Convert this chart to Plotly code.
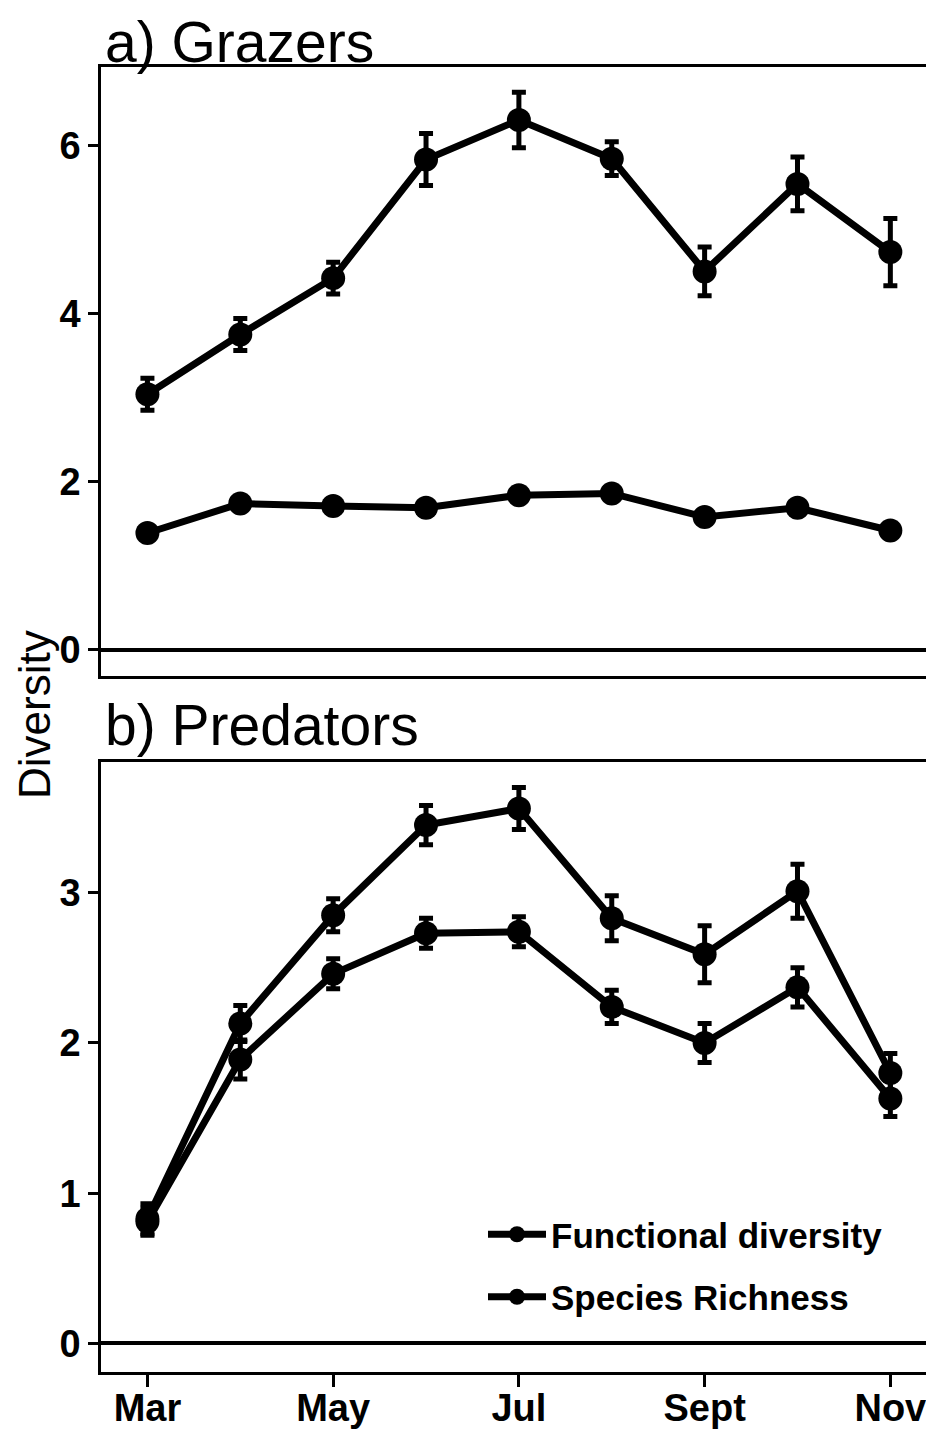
import plotly.graph_objects as go
from plotly.subplots import make_subplots

months = ["Mar", "Apr", "May", "Jun", "Jul", "Aug", "Sept", "Oct", "Nov"]
tick_labels = ["Mar", "May", "Jul", "Sept", "Nov"]
tick_months = ["Mar", "May", "Jul", "Sept", "Nov"]

# a) Grazers
graz_sr = [3.04, 3.75, 4.42, 5.83, 6.30, 5.84, 4.50, 5.54, 4.73]
graz_sr_err = [0.19, 0.19, 0.19, 0.31, 0.33, 0.20, 0.29, 0.32, 0.40]
graz_fd = [1.39, 1.74, 1.71, 1.69, 1.84, 1.86, 1.58, 1.69, 1.42]
graz_fd_err = [0.05, 0.05, 0.05, 0.05, 0.05, 0.05, 0.05, 0.05, 0.05]

# b) Predators
pred_sr = [0.83, 2.13, 2.85, 3.45, 3.56, 2.83, 2.59, 3.01, 1.80]
pred_sr_err = [0.10, 0.12, 0.11, 0.13, 0.14, 0.15, 0.19, 0.18, 0.13]
pred_fd = [0.81, 1.89, 2.46, 2.73, 2.74, 2.24, 2.00, 2.37, 1.63]
pred_fd_err = [0.09, 0.13, 0.10, 0.10, 0.10, 0.11, 0.13, 0.13, 0.12]

xidx = list(range(len(months)))
tickvals = [months.index(m) for m in tick_months]

FONT = "Liberation Sans, Arial, Helvetica, sans-serif"
# page body has an 8px default margin; size the figure to fit the window
O = 8
W, H = 934 - O, 1429 - O
L = 101 - O

def py(v):
    return 1 - (v - O) / H

def px(v):
    return (v - O - L) / (W - L)

fig = make_subplots(rows=2, cols=1)

def add(y, err, row, name, show):
    fig.add_trace(go.Scatter(
        x=xidx, y=y, mode="lines+markers", name=name,
        legendgroup=name, showlegend=show,
        line=dict(color="black", width=7),
        marker=dict(color="black", size=24, symbol="circle"),
        error_y=dict(type="data", array=err, visible=True,
                     color="black", thickness=5, width=7),
    ), row=row, col=1)

add(graz_sr, graz_sr_err, 1, "Species Richness", False)
add(graz_fd, graz_fd_err, 1, "Functional diversity", False)
add(pred_fd, pred_fd_err, 2, "Functional diversity", True)
add(pred_sr, pred_sr_err, 2, "Species Richness", True)

dom_a = [py(676), py(67)]
dom_b = [py(1372), py(762)]

common_x = dict(range=[-0.5, 8.47], showgrid=False, zeroline=False, automargin=False,
                showline=True, linecolor="black", linewidth=2.5, mirror=True,
                tickvals=tickvals, ticktext=tick_labels)
common_y = dict(showgrid=False, showline=True, linecolor="black", linewidth=2.5,
                mirror=False, ticks="outside", ticklen=10, tickwidth=3, automargin=False,
                tickcolor="black", zeroline=True, zerolinecolor="black",
                zerolinewidth=4,
                tickfont=dict(family=FONT, size=38, color="black", weight="bold"))

fig.update_layout(
    width=W, height=H,
    margin=dict(l=L, r=0, t=0, b=0, autoexpand=False),
    plot_bgcolor="white", paper_bgcolor="white",
    xaxis=dict(domain=[0, 1], anchor="y", showticklabels=False, ticks="", **common_x),
    xaxis2=dict(domain=[0, 1], anchor="y2", showticklabels=True, ticks="outside",
                ticklen=12, tickwidth=3, tickcolor="black", ticklabelstandoff=-11,
                tickfont=dict(family=FONT, size=38, color="black", weight="bold"),
                **common_x),
    yaxis=dict(domain=dom_a, range=[-0.31, 6.93], tickvals=[0, 2, 4, 6], **common_y),
    yaxis2=dict(domain=dom_b, range=[-0.19, 3.87], tickvals=[0, 1, 2, 3], **common_y),
    showlegend=True,
    legend=dict(x=px(483), y=py(1205), xref="paper", yref="paper",
                xanchor="left", yanchor="top",
                font=dict(family=FONT, size=35, color="black", weight="bold"),
                bgcolor="rgba(0,0,0,0)", tracegroupgap=14,
                itemsizing="trace", itemwidth=58),
    annotations=[
        dict(text="a) Grazers", x=px(103), y=py(42), xref="paper", yref="paper",
             xanchor="left", yanchor="middle", showarrow=False,
             font=dict(family=FONT, size=57, color="black")),
        dict(text="b) Predators", x=px(103), y=py(725), xref="paper", yref="paper",
             xanchor="left", yanchor="middle", showarrow=False,
             font=dict(family=FONT, size=57, color="black")),
        dict(text="Diversity", x=px(35), y=py(715),
             xref="paper", yref="paper", xanchor="center", yanchor="middle",
             textangle=-90, showarrow=False,
             font=dict(family=FONT, size=44, color="black")),
    ],
)

fig.write_html("out.html")
